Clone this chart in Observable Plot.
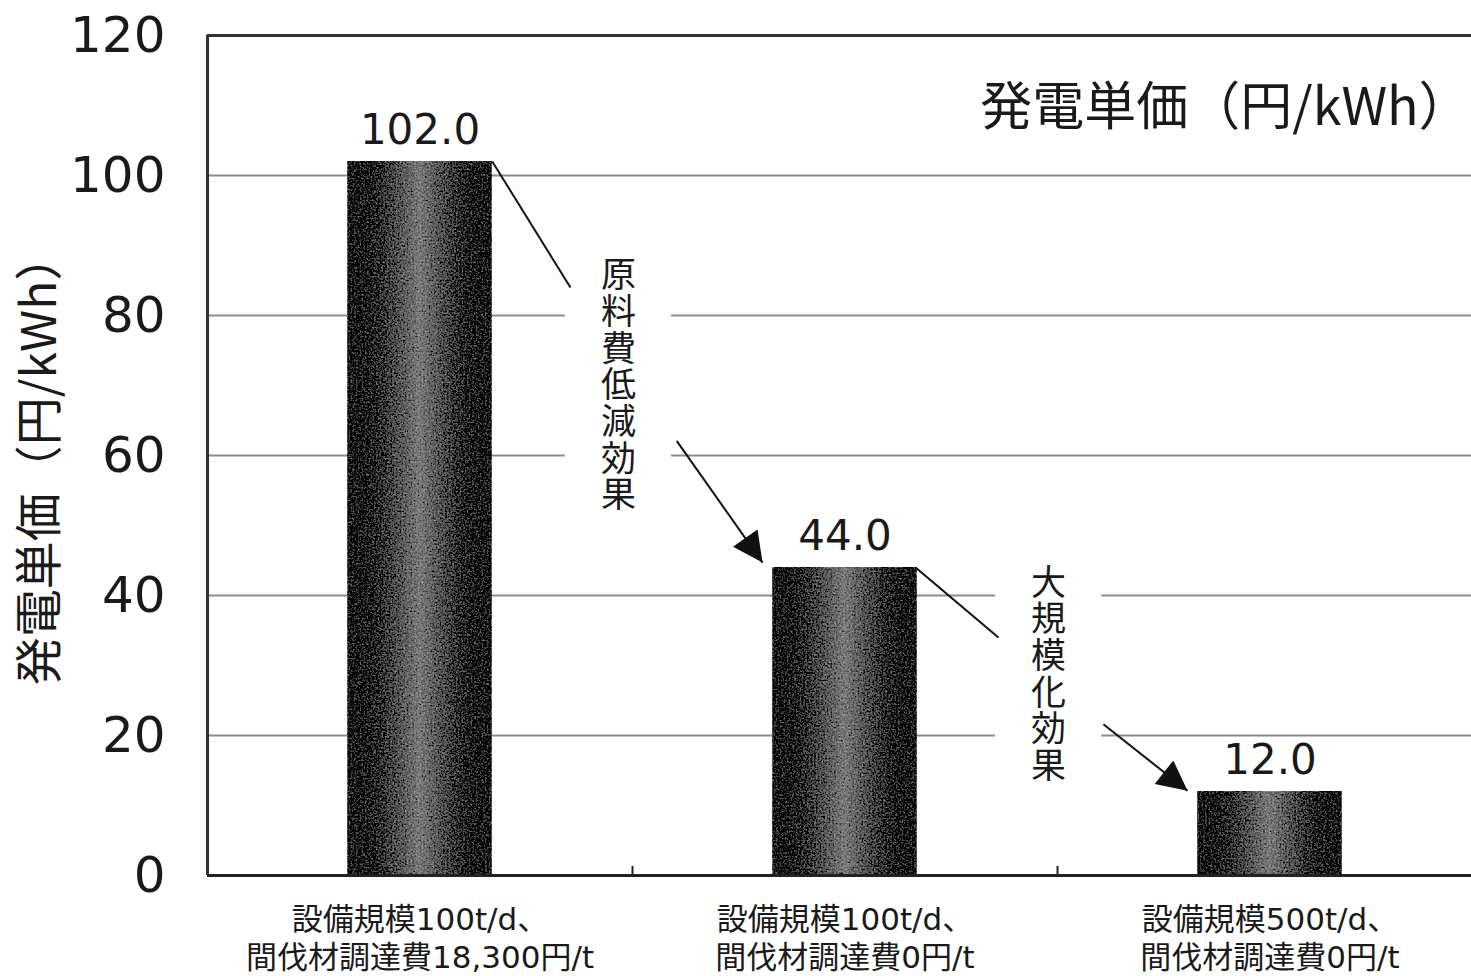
<!DOCTYPE html>
<html><head><meta charset="utf-8">
<script src="https://cdn.jsdelivr.net/npm/d3@7"></script>
<script src="https://cdn.jsdelivr.net/npm/@observablehq/plot@0.6"></script>
<style>body{margin:0;background:#fff} svg{display:block}</style>
</head><body><div id="chart"></div>
<script>
// ---- data ----
const categories = [
  "設備規模100t/d、\n間伐材調達費18,300円/t",
  "設備規模100t/d、\n間伐材調達費0円/t",
  "設備規模500t/d、\n間伐材調達費0円/t"
];
const values = [102.0, 44.0, 12.0];
const yTicks = [0, 20, 40, 60, 80, 100, 120];
const gridTicks = [20, 40, 60, 80, 100];
const effectLabels = ["原料費低減効果", "大規模化効果"];
const effectX = [0.967, 1.979];
const effectY = [71.7, 30.4];
const leaders = [
  {x1: 0.67, y1: 102, x2: 0.854, y2: 84},
  {x1: 1.666, y1: 44, x2: 1.861, y2: 34}
];
const arrows = [
  {x1: 1.104, y1: 62.1, x2: 1.306, y2: 44.7},
  {x1: 2.108, y1: 21.6, x2: 2.306, y2: 12.1}
];
const titleText = "発電単価（円/kWh）";
const yLabel = "発電単価（円/kWh）";

const FONT = "'DejaVu Sans', 'Noto Sans CJK JP', sans-serif";
const CJK = "'Noto Sans CJK JP', sans-serif";
// half-height (in y units) of the white gap behind each vertical label
const gapHalf = d => ([...d].length * 36.75 / 2 + 12) / 7;

const chart = Plot.plot({
  width: 1471, height: 976,
  marginLeft: 207, marginRight: 0, marginTop: 35, marginBottom: 101,
  style: {fontFamily: FONT, background: "#fff", color: "#1a1a1a"},
  x: {domain: [0, 3], range: [207, 1482], axis: null},
  y: {domain: [0, 120], axis: null},
  marks: [
    Plot.gridY(gridTicks, {stroke: "#8c8c8c", strokeOpacity: 1, strokeWidth: 2}),
    Plot.rectY(values, {x1: (d, i) => i + 0.33, x2: (d, i) => i + 0.67, y1: 0, y2: d => d, fill: "url(#barGrad)"}),
    Plot.ruleY([120], {stroke: "#333", strokeWidth: 3}),
    Plot.ruleY([0], {stroke: "#222", strokeWidth: 3}),
    Plot.ruleX([0], {y1: 0, y2: 120, stroke: "#333", strokeWidth: 3}),
    Plot.ruleX([1, 2], {y1: 0, y2: 1.3, stroke: "#222", strokeWidth: 2}),
    Plot.axisY(yTicks, {tickSize: 0, tickPadding: 42, fontSize: 50, fill: "#1a1a1a", label: null}),
    Plot.text(categories, {x: (d, i) => i + 0.5, y: 0, text: d => d, dy: 61, fontSize: 31, lineHeight: 1.22, fill: "#1a1a1a"}),
    Plot.text(values, {x: (d, i) => i + 0.5, y: d => d, text: d => d.toFixed(1), dy: -31, fontSize: 42, fill: "#1a1a1a"}),
    // white gap behind the vertical annotations (breaks the grid lines)
    Plot.rect(effectLabels, {
      x1: (d, i) => effectX[i] - 0.125, x2: (d, i) => effectX[i] + 0.125,
      y1: (d, i) => effectY[i] - gapHalf(d), y2: (d, i) => effectY[i] + gapHalf(d), fill: "white"
    }),
    Plot.text(effectLabels, {x: (d, i) => effectX[i], y: (d, i) => effectY[i], text: d => d, fontSize: 35, fontFamily: CJK, fill: "#1a1a1a"}),
    Plot.link(leaders, {x1: "x1", y1: "y1", x2: "x2", y2: "y2", stroke: "#111", strokeWidth: 2}),
    Plot.link(arrows, {x1: "x1", y1: "y1", x2: "x2", y2: "y2", stroke: "#111", strokeWidth: 2}),
    Plot.text([titleText], {x: 2.972, y: 109.6, text: d => d, textAnchor: "end", fontSize: 52, fontFamily: CJK, fill: "#1a1a1a"}),
    Plot.text([yLabel], {x: -0.393, y: 59.5, text: d => d, rotate: -90, fontSize: 48, fontFamily: CJK, fill: "#1a1a1a"})
  ]
});

// defs: gradient, grain filter, filled triangle marker
const svg = d3.select(chart);
const defs = svg.insert("defs", ":first-child");
const g = defs.append("linearGradient").attr("id", "barGrad").attr("x1", 0).attr("x2", 1).attr("y1", 0).attr("y2", 0);
[[0, "#000"], [0.1, "#050505"], [0.28, "#404040"], [0.5, "#7a7a7a"], [0.72, "#404040"], [0.9, "#050505"], [1, "#000"]]
  .forEach(([o, c]) => g.append("stop").attr("offset", o).attr("stop-color", c));
const f = defs.append("filter").attr("id", "grain").attr("x", 0).attr("y", 0).attr("width", 1).attr("height", 1);
f.append("feTurbulence").attr("type", "fractalNoise").attr("baseFrequency", 0.55).attr("numOctaves", 2).attr("seed", 3).attr("result", "n");
f.append("feColorMatrix").attr("in", "n").attr("type", "matrix")
  .attr("values", "0.33 0.33 0.33 0 0  0.33 0.33 0.33 0 0  0.33 0.33 0.33 0 0  0 0 0 0 1").attr("result", "gn");
f.append("feComposite").attr("in", "gn").attr("in2", "SourceGraphic").attr("operator", "arithmetic")
  .attr("k1", 0).attr("k2", 0.8).attr("k3", 1).attr("k4", -0.4).attr("result", "c");
f.append("feComposite").attr("in", "c").attr("in2", "SourceAlpha").attr("operator", "in");
const m = defs.append("marker").attr("id", "tri").attr("viewBox", "0 0 10 10").attr("refX", 10).attr("refY", 5)
  .attr("markerWidth", 32).attr("markerHeight", 30).attr("markerUnits", "userSpaceOnUse").attr("orient", "auto");
m.append("path").attr("d", "M0,0L10,5L0,10z").attr("fill", "#111");

const rects = svg.selectAll('g[aria-label="rect"]').nodes();
d3.select(rects[0]).selectAll("rect").attr("filter", "url(#grain)");
const links = svg.selectAll('g[aria-label="link"]').nodes();
d3.select(links[links.length - 1]).selectAll("path").attr("marker-end", "url(#tri)");

// vertical writing for the two effect annotations
const effectSet = new Set(effectLabels);
svg.selectAll("text").filter(function () { return effectSet.has(this.textContent); })
  .attr("dy", null)
  .attr("writing-mode", "vertical-rl")
  .style("writing-mode", "vertical-rl")
  .style("text-orientation", "upright")
  .style("letter-spacing", "1.7px");

document.getElementById("chart").appendChild(chart);
</script>
</body></html>
